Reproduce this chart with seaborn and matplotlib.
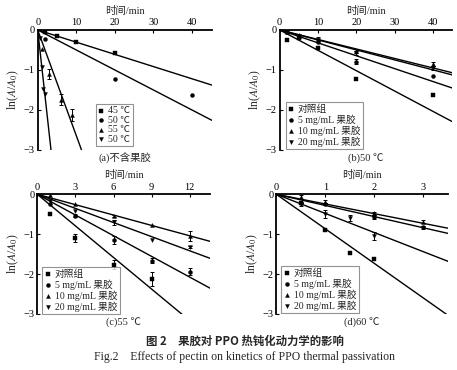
import numpy as np
import pandas as pd
import matplotlib
matplotlib.use("Agg")
import matplotlib.pyplot as plt
import seaborn as sns

sns.set_theme(style="white")
plt.rcParams['font.family'] = ['Liberation Serif', 'Noto Sans CJK SC', 'DejaVu Sans']
plt.rcParams['mathtext.fontset'] = 'stix'
plt.rcParams['axes.unicode_minus'] = True

markers = ['s', 'o', '^', 'v']

# ---------- panel a ----------
a_labels = ['45 ℃', '50 ℃', '55 ℃', '50 ℃']
a_t = [[2, 5, 10, 20], [2, 20, 40], [1, 3, 6, 9], [0.5, 1, 1.5, 2]]
a_y = [[-0.05, -0.15, -0.31, -0.58], [-0.23, -1.23, -1.62],
       [-0.48, -1.10, -1.74, -2.13], [-0.20, -0.92, -1.47, -1.61]]
a_err = [[0, 0, 0, 0], [0, 0, 0], [0, 0.12, 0.14, 0.16], [0, 0, 0, 0]]
a_k = [-0.0305, -0.050, -0.264, -0.87]

# ---------- panel b ----------
bcd_labels = ['对照组', '5 mg/mL 果胶', '10 mg/mL 果胶', '20 mg/mL 果胶']
b_t = [[2, 5, 10, 20, 40]] * 4
b_y = [[-0.25, -0.19, -0.44, -1.23, -1.62],
       [-0.06, -0.17, -0.29, -0.79, -1.15],
       [-0.04, -0.13, -0.22, -0.52, -0.85],
       [-0.06, -0.16, -0.25, -0.57, -0.95]]
b_err = [[0, 0, 0, 0, 0], [0, 0, 0, 0.06, 0], [0, 0, 0.04, 0.05, 0.06], [0, 0, 0, 0.05, 0.06]]
b_k = [-0.051, -0.0323, -0.0238, -0.0250]

# ---------- panel c ----------
c_t = [[1, 3, 6, 9], [1, 3, 6, 9, 12], [1, 3, 6, 9, 12], [1, 3, 6, 9, 12]]
c_y = [[-0.49, -1.10, -1.76, -2.13],
       [-0.24, -0.54, -1.14, -1.66, -1.94],
       [-0.03, -0.24, -0.54, -0.76, -1.04],
       [-0.18, -0.43, -0.70, -1.14, -1.32]]
c_err = [[0, 0.10, 0.12, 0.17], [0, 0.04, 0.10, 0.06, 0.08],
         [0, 0, 0.03, 0, 0.12], [0, 0, 0.06, 0, 0.03]]
c_k = [-0.264, -0.173, -0.0867, -0.118]

# ---------- panel d ----------
d_t = [[0.5, 1, 1.5, 2], [0.5, 1, 2, 3], [0.5, 1, 2, 3], [0.5, 1, 1.5, 2]]
d_y = [[-0.22, -0.90, -1.47, -1.61],
       [-0.22, -0.25, -0.57, -0.83],
       [-0.08, -0.19, -0.48, -0.69],
       [-0.25, -0.50, -0.60, -1.05]]
d_err = [[0, 0, 0, 0], [0, 0.03, 0.04, 0.03], [0.05, 0.04, 0.04, 0.04], [0.04, 0.10, 0.08, 0.10]]
d_k = [-0.867, -0.28, -0.243, -0.48]

panels = [
    dict(labels=a_labels, t=a_t, y=a_y, err=a_err, k=a_k, xmax=45.2, xticks=[0, 10, 20, 30, 40],
         pos=[0.0825, 0.595, 0.381, 0.324], sub='(a)不含果胶', leg=(0.334, 0.03)),
    dict(labels=bcd_labels, t=b_t, y=b_y, err=b_err, k=b_k, xmax=44.9, xticks=[0, 10, 20, 30, 40],
         pos=[0.612, 0.595, 0.377, 0.324], sub='(b)50 ℃', leg=(0.035, 0.005)),
    dict(labels=bcd_labels, t=c_t, y=c_y, err=c_err, k=c_k, xmax=13.6, xticks=[0, 3, 6, 9, 12],
         pos=[0.0816, 0.1514, 0.378, 0.3235], sub='(c)55 ℃', leg=(0.03, 0.0)),
    dict(labels=bcd_labels, t=d_t, y=d_y, err=d_err, k=d_k, xmax=3.5, xticks=[0, 1, 2, 3],
         pos=[0.6046, 0.1514, 0.3757, 0.3235], sub='(d)60 ℃', leg=(0.03, 0.005)),
]

fig = plt.figure(figsize=(4.57, 3.70), dpi=100)
fs = 7

for p in panels:
    ax = fig.add_axes(p['pos'])
    for i in range(4):
        t = np.array(p['t'][i]); y = np.array(p['y'][i]); e = np.array(p['err'][i])
        # fitted line through origin
        xl = np.array([0.0, p['xmax']])
        line_df = pd.DataFrame({'t': xl, 'y': p['k'][i] * xl})
        sns.lineplot(data=line_df, x='t', y='y', ax=ax, color='black', lw=1.0, legend=False)
        if e.any():
            ax.errorbar(t[e > 0], y[e > 0], yerr=e[e > 0], fmt='none', ecolor='black',
                        elinewidth=0.7, capsize=1.5, capthick=0.7)
        pts = pd.DataFrame({'t': t, 'y': y})
        sns.scatterplot(data=pts, x='t', y='y', ax=ax, marker=markers[i], color='black',
                        s=8, edgecolor='black', linewidth=0.3, label=p['labels'][i], zorder=5)
    ax.set_xlim(0, p['xmax'])
    ax.set_ylim(-3, 0)
    ax.xaxis.tick_top()
    ax.xaxis.set_label_position('top')
    ax.set_xticks(p['xticks'])
    ax.set_yticks([0, -1, -2, -3])
    ax.set_yticklabels(['0', '−1', '−2', '−3'])
    for s in ['right', 'bottom']:
        ax.spines[s].set_visible(False)
    ax.spines['left'].set_linewidth(1.3)
    ax.spines['top'].set_linewidth(1.3)
    ax.spines['left'].set_color('black')
    ax.spines['top'].set_color('black')
    ax.tick_params(axis='both', direction='in', length=2.5, width=0.8, labelsize=7.5,
                   colors='black', pad=2)
    ax.tick_params(axis='x', top=True, bottom=False)
    ax.tick_params(axis='y', left=True, right=False)
    ax.set_xlabel('时间/min', fontsize=7.5, labelpad=3)
    ax.set_ylabel(r'ln($A$/$A_0$)', fontsize=8.5, labelpad=2)
    ax.text(0.5, -0.025, p['sub'], transform=ax.transAxes, ha='center', va='top', fontsize=7.5)
    ax.set_facecolor('none')
    leg = ax.legend(loc='lower left', bbox_to_anchor=p['leg'], fontsize=fs, frameon=True,
                    fancybox=False, edgecolor='#777777', handlelength=0.6, handletextpad=0.4,
                    borderpad=0.25, labelspacing=0.05, markerscale=1.0, borderaxespad=0)
    leg.get_frame().set_linewidth(0.8)
    ax.grid(False)

fig.text(0.535, 1 - 341 / 370, '图 2　果胶对 PPO 热钝化动力学的影响', ha='center', va='center',
         fontsize=8.2, fontweight='bold', family=['Noto Sans CJK SC', 'DejaVu Sans'])
fig.text(0.534, 1 - 357 / 370, 'Fig.2　Effects of pectin on kinetics of PPO thermal passivation',
         ha='center', va='center', fontsize=8.5,
         family=['Liberation Serif', 'Noto Sans CJK SC', 'DejaVu Serif'])

fig.savefig('out.png', dpi=100)
